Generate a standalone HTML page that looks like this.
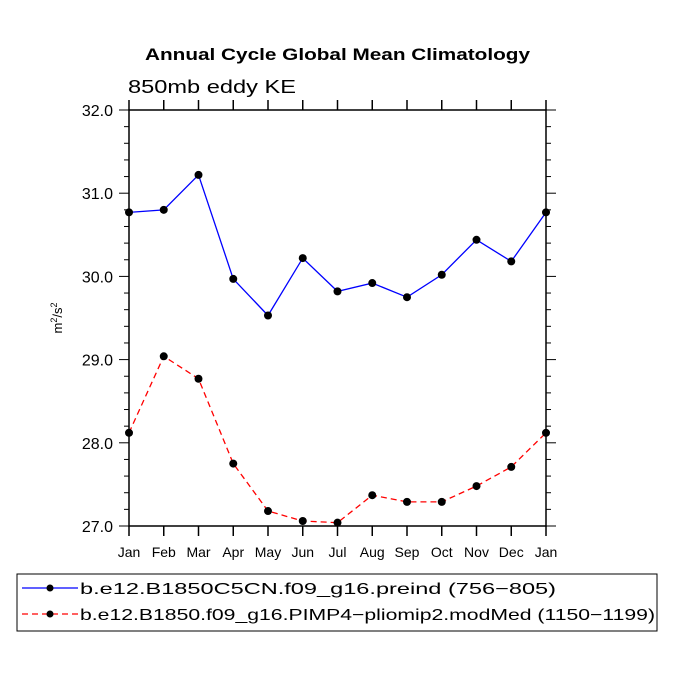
<!DOCTYPE html>
<html><head><meta charset="utf-8"><style>
body{margin:0;background:#fff}
svg text{font-family:"Liberation Sans",sans-serif}
</style></head><body>
<svg width="675" height="675" viewBox="0 0 675 675" xmlns="http://www.w3.org/2000/svg">
<text x="145" y="60" font-size="17" font-weight="bold" textLength="385" lengthAdjust="spacingAndGlyphs">Annual Cycle Global Mean Climatology</text>
<text x="128" y="93" font-size="18" textLength="168" lengthAdjust="spacingAndGlyphs">850mb eddy KE</text>
<text transform="translate(62,318) rotate(-90)" text-anchor="middle" font-size="13">m<tspan font-size="9" dy="-5">2</tspan><tspan dy="5">/s</tspan><tspan font-size="9" dy="-5">2</tspan></text>
<g id="axes"></g>
<g id="series"></g>
<g>
<rect x="17" y="574" width="640" height="57" fill="none" stroke="#000" stroke-width="1"/>
<line x1="22" y1="588" x2="78" y2="588" stroke="#00f" stroke-width="1.3"/>
<circle cx="50" cy="588" r="3.5"/>
<text x="80" y="594" font-size="16" textLength="476" lengthAdjust="spacingAndGlyphs">b.e12.B1850C5CN.f09_g16.preind (756−805)</text>
<line x1="22" y1="614" x2="78" y2="614" stroke="#f00" stroke-width="1.3" stroke-dasharray="6,4"/>
<circle cx="50" cy="614" r="3.5"/>
<text x="80" y="620" font-size="16" textLength="575" lengthAdjust="spacingAndGlyphs">b.e12.B1850.f09_g16.PIMP4−pliomip2.modMed (1150−1199)</text>
</g>
</svg>
<script>
const months=["Jan","Feb","Mar","Apr","May","Jun","Jul","Aug","Sep","Oct","Nov","Dec","Jan"];
const blueVals=[30.77,30.80,31.22,29.97,29.53,30.22,29.82,29.92,29.75,30.02,30.44,30.18,30.77];
const redVals=[28.12,29.04,28.77,27.75,27.18,27.06,27.04,27.37,27.29,27.29,27.48,27.71,28.12];
const yTicks=["27.0","28.0","29.0","30.0","31.0","32.0"];
const X0=129,X1=546,Y0=526,Y1=110,ymin=27,ymax=32;
const xs=i=>X0+(X1-X0)*i/(months.length-1);
const ys=v=>Y0-(v-ymin)/(ymax-ymin)*(Y0-Y1);
const NS="http://www.w3.org/2000/svg";
function mk(t,a,p){const e=document.createElementNS(NS,t);for(const k in a)e.setAttribute(k,a[k]);p.appendChild(e);return e;}
const ax=document.getElementById('axes');
const frame=mk('rect',{x:X0,y:Y1,width:X1-X0,height:Y0-Y1,fill:'none',stroke:'#000','stroke-width':1.5},ax);


months.forEach((m,i)=>{const x=xs(i);
mk('line',{x1:x,y1:Y0,x2:x,y2:Y0+10,stroke:'#000','stroke-width':1.5},ax);
mk('line',{x1:x,y1:Y1,x2:x,y2:Y1-10,stroke:'#000','stroke-width':1.5},ax);
const t=mk('text',{x:x,y:Y0+31,'text-anchor':'middle','font-size':14},ax);t.textContent=m;

});
for(let v=ymin;v<=ymax+1e-6;v+=0.2){const y=ys(v);const major=Math.abs(v-Math.round(v))<1e-6;const L=major?10:5;
mk('line',{x1:X0,y1:y,x2:X0-L,y2:y,stroke:'#000','stroke-width':1},ax);
mk('line',{x1:X1,y1:y,x2:X1+L,y2:y,stroke:'#000','stroke-width':1},ax);}
yTicks.forEach(s=>{const t=mk('text',{x:X0-16,y:ys(parseFloat(s))+6,'text-anchor':'end','font-size':16},ax);t.textContent=s;

});
const sg=document.getElementById('series');
function series(vals,color,dash,name){
const p=mk('polyline',{points:vals.map((v,i)=>xs(i)+','+ys(v)).join(' '),fill:'none',stroke:color,'stroke-width':1.3,'stroke-dasharray':dash},sg);


vals.forEach((v,i)=>{const c=mk('circle',{cx:xs(i),cy:ys(v),r:4},sg);

});}
series(blueVals,'#00f','none','preind');
series(redVals,'#f00','6,4','pliomip');
</script>
</body></html>
